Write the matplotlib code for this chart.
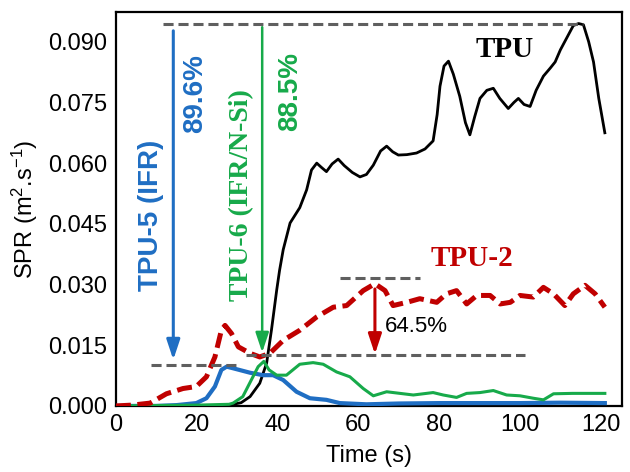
import matplotlib
matplotlib.use("Agg")
import matplotlib.pyplot as plt

plt.rcParams['font.family'] = ['Liberation Sans', 'DejaVu Sans']
plt.rcParams['mathtext.fontset'] = 'custom'
plt.rcParams['mathtext.rm'] = 'Liberation Sans'
plt.rcParams['mathtext.it'] = 'Liberation Sans:italic'
plt.rcParams['mathtext.bf'] = 'Liberation Sans:bold'

# ---- data ----
tpu_x = [0, 20, 28, 31, 33.2, 35.6, 37.3, 38.5, 39.8, 40.5, 41.4, 43.1, 45.5, 47.2, 48.4, 49.7,
         50.8, 52.1, 53.5, 55.0, 56.5, 58.5, 60.4, 62, 63.7, 65.5, 67.0, 68.5, 69.9, 72, 74.4, 76.5,
         78.5, 79.5, 80.2, 81.2, 82.3, 83.5, 85.1, 86.5, 87.6, 88.8, 90.1, 91.8, 93.4, 95, 97.1,
         98.5, 99.6, 101, 102.5, 104, 105.8, 107.5, 108.7, 110, 111.6, 113.2, 114.5, 115.7, 117,
         118.2, 119.5, 121]
tpu_y = [0, 0, 0.0002, 0.0008, 0.0023, 0.0056, 0.0106, 0.0188, 0.0287, 0.0335, 0.0386, 0.0452,
         0.0490, 0.0534, 0.0583, 0.0600, 0.0590, 0.0579, 0.0598, 0.0610, 0.0594, 0.0577, 0.0566,
         0.0572, 0.0595, 0.0630, 0.0642, 0.0628, 0.0620, 0.0621, 0.0625, 0.0635, 0.0655, 0.0720,
         0.0790, 0.0840, 0.0852, 0.0820, 0.0765, 0.0700, 0.0670, 0.0715, 0.0760, 0.0780, 0.0785,
         0.0760, 0.0735, 0.0750, 0.0760, 0.0745, 0.0740, 0.0780, 0.0815, 0.0835, 0.0850, 0.0880,
         0.0910, 0.0940, 0.0945, 0.0942, 0.0900, 0.0850, 0.0760, 0.0675]

tpu2_x = [0, 4, 8.5, 12.5, 16.6, 19.9, 22.4, 24.5, 26.1, 27, 28.6, 30.3, 33.2, 35.6, 38.1, 41.4,
          45.5, 49.7, 53.8, 57.1, 61.2, 64.1, 66.6, 68.6, 72, 75.2, 79.4, 81.8, 84.3, 86.8, 89.3,
          92.6, 95.1, 97.6, 100, 103.3, 105.8, 108.3, 111.1, 113.2, 116.1, 118.6, 121]
tpu2_y = [0, 0.0002, 0.0007, 0.003, 0.0043, 0.0048, 0.0072, 0.0121, 0.0187, 0.0199, 0.0179,
          0.0146, 0.0130, 0.0121, 0.0130, 0.0162, 0.0187, 0.0220, 0.0244, 0.0248, 0.0285, 0.0302,
          0.0285, 0.0248, 0.0256, 0.0265, 0.0256, 0.0277, 0.0285, 0.0252, 0.0273, 0.0273, 0.0252,
          0.0256, 0.0273, 0.0269, 0.0293, 0.0277, 0.0248, 0.0277, 0.0298, 0.0277, 0.0244]

tpu5_x = [0, 10, 15, 19.9, 22.4, 24.5, 26.1, 27.4, 29, 33.2, 36.4, 38.9, 41.4, 44.7, 48, 52.1,
          55.4, 62, 70, 80, 90, 100, 110, 121]
tpu5_y = [0, 0, 0.0002, 0.0007, 0.0019, 0.0048, 0.0089, 0.0097, 0.0093, 0.0082, 0.0076, 0.0076,
          0.0064, 0.0035, 0.0019, 0.0015, 0.0007, 0.0004, 0.0006, 0.0007, 0.0007, 0.0007, 0.0008,
          0.0007]

tpu6_x = [0, 20, 28, 29, 31.4, 33.5, 35.2, 36.6, 37.9, 39.8, 42.2, 45.5, 48.8, 51.3, 54.6, 57.9,
          61.2, 63.7, 67, 70.3, 73.6, 78.5, 81, 84.3, 86.8, 90.1, 93.4, 96.7, 100, 103.3, 105.8,
          108.3, 113, 121]
tpu6_y = [0, 0.0002, 0.0004, 0.0007, 0.0023, 0.0064, 0.0097, 0.0110, 0.0089, 0.0076, 0.0076,
          0.0103, 0.0107, 0.0103, 0.0084, 0.0072, 0.0043, 0.0025, 0.0035, 0.0031, 0.0027, 0.0033,
          0.0027, 0.0021, 0.0031, 0.0033, 0.0038, 0.0027, 0.0025, 0.0019, 0.0015, 0.0030, 0.0031,
          0.0031]

# reference (gray dashed) levels: (x_start, x_end, y)
ref_lines = [(11.7, 115.7, 0.0944), (8.8, 29.9, 0.0100), (32.3, 101.2, 0.0126), (55.4, 75.2, 0.0316)]
# arrows: (x, y_start, y_end)
arrow_blue = (14.2, 0.0927, 0.0114)
arrow_green = (36.2, 0.0936, 0.0132)
arrow_red = (64.1, 0.0289, 0.0128)

x_ticks = [0, 20, 40, 60, 80, 100, 120]
y_ticks = [0.000, 0.015, 0.030, 0.045, 0.060, 0.075, 0.090]

BLUE = '#1F6EC3'
GREEN = '#17AA4A'
RED = '#C00000'
GRAY = '#5F5F5F'

fig = plt.figure(figsize=(6.3, 4.72), dpi=100)
ax = fig.add_axes([0.184, 0.140, 0.803, 0.835])

ax.plot(tpu_x, tpu_y, color='black', lw=2.0, zorder=3)
ax.plot(tpu5_x, tpu5_y, color=BLUE, lw=3.0, zorder=4)
ax.plot(tpu6_x, tpu6_y, color=GREEN, lw=2.2, zorder=4)
ax.plot(tpu2_x, tpu2_y, color=RED, lw=3.6, linestyle=(0, (3.0, 1.3)), zorder=5)

for x0, x1, yv in ref_lines:
    ax.plot([x0, x1], [yv, yv], color=GRAY, lw=2.2, linestyle=(0, (3.3, 1.6)), zorder=6)

for (xa, ys, ye), col, lw in [(arrow_blue, BLUE, 2.2), (arrow_green, GREEN, 1.8), (arrow_red, RED, 2.2)]:
    ax.annotate('', xy=(xa, ye), xytext=(xa, ys),
                arrowprops=dict(arrowstyle='-|>,head_length=0.6,head_width=0.2', color=col, lw=lw,
                                shrinkA=0, shrinkB=0, mutation_scale=20), zorder=7)

serif = ['Liberation Serif', 'DejaVu Serif']
ax.text(8.8, 0.0472, 'TPU-5 (IFR)', color=BLUE, fontsize=20, fontweight='bold', rotation=90,
        ha='center', va='center')
ax.text(19.6, 0.0773, '89.6%', color=BLUE, fontsize=20, fontweight='bold', rotation=90,
        ha='center', va='center')
ax.text(31.1, 0.0522, 'TPU-6 (IFR/N-Si)', color=GREEN, fontsize=20, fontweight='bold', rotation=90,
        ha='center', va='center', family=serif)
ax.text(43.1, 0.0777, '88.5%', color=GREEN, fontsize=20, fontweight='bold', rotation=90,
        ha='center', va='center')
ax.text(96.3, 0.0880, 'TPU', color='black', fontsize=21, fontweight='bold', ha='center',
        va='center', family=serif)
ax.text(88.0, 0.0365, 'TPU-2', color=RED, fontsize=21, fontweight='bold', ha='center',
        va='center', family=serif)
ax.text(74.4, 0.0196, '64.5%', color='black', fontsize=16, ha='center', va='center')

ax.set_xlim(0, 125.2)
ax.set_ylim(0, 0.0974)
ax.set_xticks(x_ticks)
ax.set_xticklabels([str(v) for v in x_ticks])
ax.set_yticks(y_ticks)
ax.set_yticklabels([f'{v:.3f}' for v in y_ticks])
ax.tick_params(length=0, labelsize=17, pad=6)
ax.set_xlabel('Time (s)', fontsize=17, labelpad=6)
ax.set_ylabel(r'SPR (m$^{2}$.s$^{-1}$)', fontsize=17, labelpad=6)
for s in ax.spines.values():
    s.set_linewidth(1.6)
    s.set_color('black')

fig.savefig('out.png', dpi=100)
